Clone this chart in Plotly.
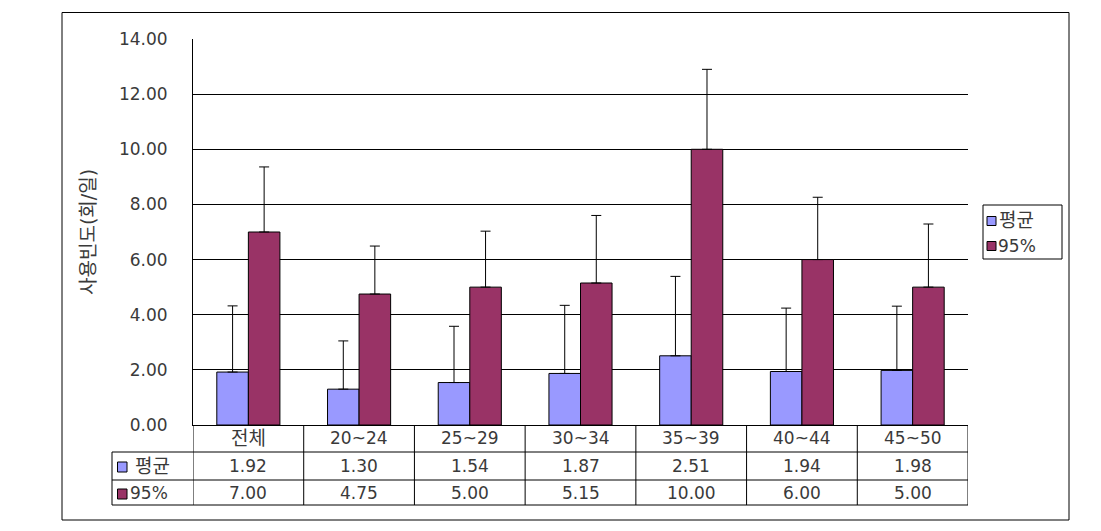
import plotly.graph_objects as go

categories = ["전체", "20~24", "25~29", "30~34", "35~39", "40~44", "45~50"]
mean_vals = [1.92, 1.30, 1.54, 1.87, 2.51, 1.94, 1.98]
p95_vals = [7.00, 4.75, 5.00, 5.15, 10.00, 6.00, 5.00]
mean_err = [2.40, 1.75, 2.04, 2.47, 2.88, 2.30, 2.33]
p95_err = [2.36, 1.74, 2.03, 2.45, 2.90, 2.26, 2.29]
series_names = ["평균", "95%"]
y_title = "사용빈도(회/일)"

C_MEAN = "#9999FF"
C_95 = "#993366"
FONT = "DejaVu Sans, Noto Sans CJK KR, sans-serif"
TXT = "#3a3a3a"
FS = 17
FS_KO = 19


def is_korean(s):
    return any("\uac00" <= ch <= "\ud7a3" for ch in s)


fig = go.Figure()
fig.add_trace(go.Bar(
    x=categories, y=mean_vals, name=series_names[0],
    marker=dict(color=C_MEAN, line=dict(color="black", width=1)),
    error_y=dict(type="data", array=mean_err, symmetric=False,
                 arrayminus=[0] * len(mean_err), color="black", thickness=1, width=5),
))
fig.add_trace(go.Bar(
    x=categories, y=p95_vals, name=series_names[1],
    marker=dict(color=C_95, line=dict(color="black", width=1)),
    error_y=dict(type="data", array=p95_err, symmetric=False,
                 arrayminus=[0] * len(p95_err), color="black", thickness=1, width=5),
))

L, R, T, B = 193, 968, 39, 425
W, H = 1101, 531
ph = B - T
pw = R - L


def py(pix):
    return (B - pix) / ph


def px(pix):
    return (pix - L) / pw


shapes = []
line = dict(color="black", width=1)
# outer frame
shapes.append(dict(type="rect", xref="paper", yref="paper",
                   x0=px(62), x1=px(1069), y0=py(520), y1=py(12.5), line=line))
# table horizontal lines
for yy in (452, 480, 505):
    shapes.append(dict(type="line", xref="paper", yref="paper",
                       x0=px(112), x1=1, y0=py(yy), y1=py(yy), line=line))
# table left border
shapes.append(dict(type="line", xref="paper", yref="paper",
                   x0=px(112), x1=px(112), y0=py(452), y1=py(505), line=line))
# column separators
for k in range(len(categories) + 1):
    shapes.append(dict(type="line", xref="x", yref="paper",
                       x0=k - 0.5, x1=k - 0.5, y0=0, y1=py(505), line=line))
# legend keys in table
for (yc, col) in ((467, C_MEAN), (494, C_95)):
    shapes.append(dict(type="rect", xref="paper", yref="paper",
                       x0=px(117.5), x1=px(127), y0=py(yc + 5), y1=py(yc - 5),
                       fillcolor=col, line=dict(color="black", width=1)))
# legend box and keys
shapes.append(dict(type="rect", xref="paper", yref="paper",
                   x0=px(983), x1=px(1062), y0=py(259), y1=py(205),
                   fillcolor="white", line=line))
for (yc, col) in ((221, C_MEAN), (246, C_95)):
    shapes.append(dict(type="rect", xref="paper", yref="paper",
                       x0=px(987), x1=px(996), y0=py(yc + 4.5), y1=py(yc - 4.5),
                       fillcolor=col, line=dict(color="black", width=1)))


def tf(s):
    return dict(family=FONT, size=FS_KO if is_korean(s) else FS, color=TXT)


annotations = []
for i, c in enumerate(categories):
    annotations.append(dict(x=c, xref="x", y=py(438.5), yref="paper", text=c,
                            showarrow=False, font=tf(c), xanchor="center", yanchor="middle"))
    t1 = f"{mean_vals[i]:.2f}"
    t2 = f"{p95_vals[i]:.2f}"
    annotations.append(dict(x=c, xref="x", y=py(466), yref="paper", text=t1,
                            showarrow=False, font=tf(t1), xanchor="center", yanchor="middle"))
    annotations.append(dict(x=c, xref="x", y=py(492.5), yref="paper", text=t2,
                            showarrow=False, font=tf(t2), xanchor="center", yanchor="middle"))
annotations.append(dict(x=px(133), xref="paper", y=py(466), yref="paper", text=series_names[0],
                        showarrow=False, font=tf(series_names[0]), xanchor="left", yanchor="middle"))
annotations.append(dict(x=px(128), xref="paper", y=py(492.5), yref="paper", text=series_names[1],
                        showarrow=False, font=tf(series_names[1]), xanchor="left", yanchor="middle"))
annotations.append(dict(x=px(997), xref="paper", y=py(220), yref="paper", text=series_names[0],
                        showarrow=False, font=tf(series_names[0]), xanchor="left", yanchor="middle"))
annotations.append(dict(x=px(996), xref="paper", y=py(245.5), yref="paper", text=series_names[1],
                        showarrow=False, font=tf(series_names[1]), xanchor="left", yanchor="middle"))
annotations.append(dict(x=px(88), xref="paper", y=0.5, yref="paper", text=y_title,
                        textangle=-90, showarrow=False, font=tf(y_title),
                        xanchor="center", yanchor="middle"))

fig.update_layout(
    width=W, height=H,
    margin=dict(l=L, r=W - R, t=T, b=H - B, autoexpand=False),
    paper_bgcolor="white", plot_bgcolor="white",
    barmode="group", bargap=0.43, bargroupgap=0,
    font=dict(family=FONT, size=FS, color=TXT),
    showlegend=False,
    shapes=shapes, annotations=annotations,
)
fig.update_xaxes(showticklabels=False, showline=True, linecolor="black", linewidth=1,
                 showgrid=False, ticks="", range=[-0.5, len(categories) - 0.5])
fig.update_yaxes(range=[0, 14], dtick=2, tickformat=".2f", showgrid=True,
                 gridcolor="black", gridwidth=1, showline=True, linecolor="black",
                 linewidth=1, ticks="", ticklabelstandoff=21, zeroline=False,
                 tickfont=dict(family=FONT, size=FS, color=TXT))

fig.write_html("out.html")
